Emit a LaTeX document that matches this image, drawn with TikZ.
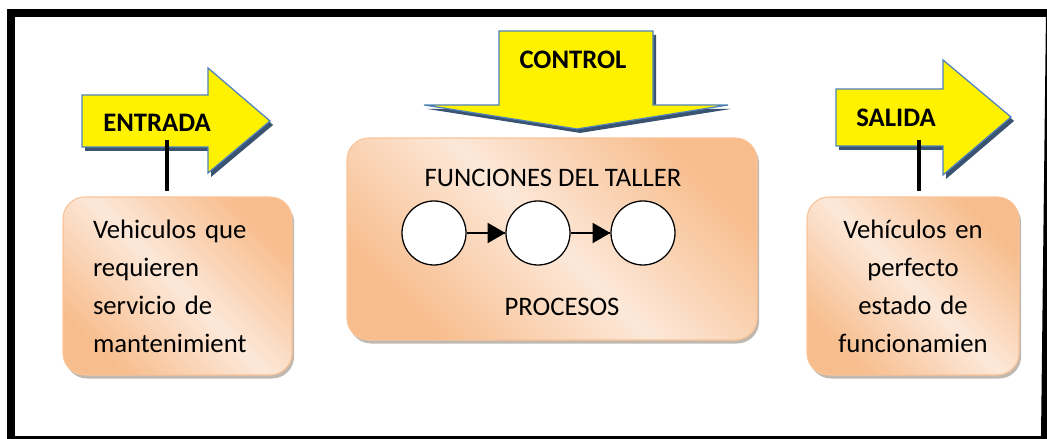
\documentclass[tikz,border=0pt]{standalone}
\usepackage{fontspec}
\setmainfont{Carlito}
\usetikzlibrary{arrows}
\usetikzlibrary{decorations.markings}
\usetikzlibrary{shadows}
\tikzset{flow/.style = {decoration={markings,
                                    mark=at position 1 with {\arrow[scale=1.45]{triangle 60}}},
                        postaction={decorate}}}
\definecolor{ablue}{rgb}{0.31, 0.51, 0.74}
\definecolor{anavy}{rgb}{0.14, 0.25, 0.38}
\definecolor{bdark}{rgb}{0.97, 0.74, 0.55}
\definecolor{blight}{rgb}{0.99, 0.91, 0.85}
\definecolor{bline}{rgb}{0.98, 0.77, 0.60}
\tikzset{bigarrow/.style = {fill=yellow, draw=ablue, line width=0.9pt,
                            drop shadow={shadow xshift=2.2pt, shadow yshift=-2.8pt,
                                         fill=anavy, opacity=0.9}}}
\tikzset{infobox/.style = {rectangle, rounded corners=0.55cm, draw=bline, line width=0.8pt,
                           top color=bdark, bottom color=bdark, middle color=blight,
                           shading angle=-45, minimum height=4.45cm,
                           drop shadow={shadow xshift=1.5pt, shadow yshift=-2.5pt,
                                        fill=black!60!brown, opacity=0.35}}}
\tikzset{stage/.style = {circle, draw, line width=0.9pt, fill=white,
                         minimum size=1.6cm, inner sep=0pt}}
\tikzset{tag/.style = {font=\fontsize{19}{27}\selectfont\bfseries, inner sep=0pt}}
\tikzset{stem/.style = {line width=2.2pt, shorten >=0.125cm}}

\begin{document}
\begin{tikzpicture}[font=\fontsize{19}{27}\selectfont]
    \useasboundingbox (0, 0) rectangle (26.175, 10.975);

    % frame
    \draw [line width=5.5pt] (0.275, 0) -- (0.275, 10.75);
    \draw [line width=5.7pt] (0.2, 10.65) -- (26.3, 10.65);
    \draw [line width=4.3pt] (26.225, 10.65) -- (26.1, 0);
    \draw [line width=4.3pt] (0.275, 0) -- (26.1, 0);

    % input
    \draw [bigarrow] (2.05, 8.6) -- (5.2, 8.6) -- (5.2, 9.275) -- (6.75, 7.95)
        -- (5.2, 6.65) -- (5.2, 7.3) -- (2.05, 7.3) -- cycle;
    \node [tag] (entrada) at (3.925, 7.9) {ENTRADA};
    \node [infobox, minimum width=5.725cm, text width=4.225cm, inner xsep=0.75cm, align=left]
        (inbox) at (4.4375, 3.825) {Vehiculos que\\ requieren\\ servicio de\\ mantenimient};
    \coordinate (intail) at (4.175, 7.475);
    \draw [stem] (intail) -- (intail |- inbox.north);

    % control
    \draw [bigarrow] (12.475, 10.2) -- (16.325, 10.2) -- (16.325, 8.35) -- (18.2, 8.35)
        -- (14.425, 7.75) -- (10.6, 8.35) -- (12.475, 8.35) -- cycle;
    \node [tag] (control) at (14.325, 9.475) {CONTROL};

    % process box
    \node [infobox, minimum width=10.25cm, minimum height=5.05cm] (taller) at (13.8, 5.0) {};
    \node (funciones) at (13.825, 6.525) {FUNCIONES DEL TALLER};
    \node [stage] (p1) at (10.85, 5.15) {};
    \node [stage] (p2) at (13.45, 5.15) {};
    \node [stage] (p3) at (16.075, 5.15) {};
    \draw [flow, line width=1.4pt] (p1) -- (p2);
    \draw [flow, line width=1.4pt] (p2) -- (p3);
    \node (procesos) at (14.05, 3.3) {PROCESOS};

    % output
    \draw [bigarrow] (20.9, 8.75) -- (23.575, 8.75) -- (23.575, 9.475) -- (25.275, 8.05)
        -- (23.575, 6.6) -- (23.575, 7.325) -- (20.9, 7.325) -- cycle;
    \node [tag] (salida) at (22.4, 8.025) {SALIDA};
    \node [infobox, minimum width=5.3cm, text width=4.3cm, align=center]
        (outbox) at (22.825, 3.825) {Vehículos en\\ perfecto\\ estado de\\ funcionamien};
    \coordinate (outtail) at (22.975, 7.475);
    \draw [stem] (outtail) -- (outtail |- outbox.north);
\end{tikzpicture}
\end{document}
